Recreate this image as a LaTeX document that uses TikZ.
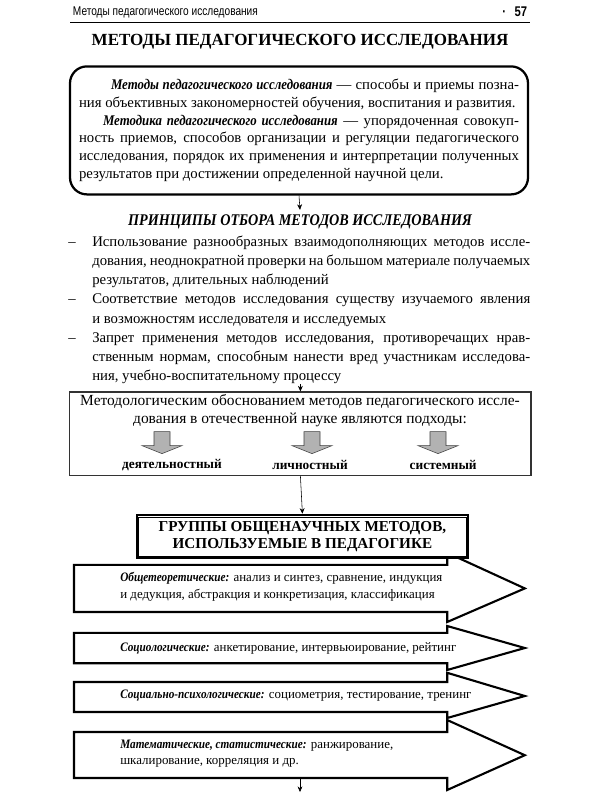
\documentclass[tikz,border=0pt]{standalone}
\usepackage{fontspec}
\setmainfont{Liberation Serif}[BoldItalicFeatures={FakeStretch=0.87}]
\newfontfamily\headfont[FakeStretch=0.8]{Liberation Sans}
\usepackage{tikz}
\usetikzlibrary{arrows.meta, positioning, calc}
\newcommand{\jline}[1]{\makebox[10.95cm][s]{#1}}

\begin{document}
\begin{tikzpicture}[
      every node/.style={font=\small},
      defbox/.style={draw, line width=1.6pt, rounded corners=12pt, minimum width=11.45cm,
                     minimum height=3.2cm, text width=11cm, inner xsep=0.2cm, align=justify,
                     font=\fontsize{10.5}{12.6}\selectfont},
      basebox/.style={draw=black!80, thick, minimum width=11.53cm, minimum height=2.08cm},
      hdrbox/.style={draw, line width=1.8pt, fill=white, minimum width=8.28cm, minimum height=1.07cm,
                     align=center, font=\fontsize{10.8}{11.8}\selectfont\bfseries},
      band/.style={draw, line width=1.5pt, fill=white, line join=miter},
      bandtext/.style={anchor=west, align=left, inner sep=0pt, font=\fontsize{9.2}{12}\selectfont},
      graydown/.style={draw=black!75, fill=black!30, line join=miter},
      apr/.style={font=\fontsize{9.5}{11}\selectfont\bfseries},
      arr/.style={-{Stealth[length=4pt,width=3.5pt]}, thin},
    ]
    \useasboundingbox[fill=white] (0,0) rectangle (15,-20);

    % running head
    \node[anchor=west, font=\headfont\fontsize{9}{10}\selectfont] (runhead) at (1.7,-0.3) {Методы педагогического исследования};
    \node[anchor=east, font=\headfont\fontsize{10}{10}\selectfont\bfseries] (pageno) at (13.3,-0.3) {·\hspace{0.6em}57};
    \draw[line width=0.8pt] (1.75,-0.57) -- (13.25,-0.57);

    \node[font=\fontsize{12.1}{14}\selectfont\bfseries] (title) at (7.5,-1.05) {МЕТОДЫ ПЕДАГОГИЧЕСКОГО ИССЛЕДОВАНИЯ};

    \node[defbox] (defn) at (7.475,-3.26) {\hspace*{0.8cm}\textbf{\textit{Методы педагогического исследования}} — способы и приемы позна-\linebreak
      ния объективных закономерностей обучения, воспитания и развития.\par
      \hspace*{0.6cm}\textbf{\textit{Методика педагогического исследования}} — упорядоченная совокуп-\linebreak
      ность приемов, способов организации и регуляции педагогического\linebreak
      исследования, порядок их применения и интерпретации полученных\linebreak
      результатов при достижении определенной научной цели.};

    \node[font=\fontsize{11.6}{12}\selectfont\bfseries\itshape] (princ) at (7.5,-5.55) {ПРИНЦИПЫ ОТБОРА МЕТОДОВ ИССЛЕДОВАНИЯ};

    \node[anchor=north west, align=left, inner sep=0pt, font=\fontsize{10.5}{13.7}\selectfont] (rules) at (1.7,-5.88) {%
      \makebox[0.6cm][l]{–}\jline{Использование разнообразных взаимодополняющих методов иссле-}\\
      \hspace*{0.6cm}\jline{дования, неоднократной проверки на большом материале получаемых}\\
      \hspace*{0.6cm}результатов, длительных наблюдений\\
      \makebox[0.6cm][l]{–}\jline{Соответствие методов исследования существу изучаемого явления}\\
      \hspace*{0.6cm}и возможностям исследователя и исследуемых\\
      \makebox[0.6cm][l]{–}\jline{Запрет применения методов исследования, противоречащих нрав-}\\
      \hspace*{0.6cm}\jline{ственным нормам, способным нанести вред участникам исследова-}\\
      \hspace*{0.6cm}ния, учебно-воспитательному процессу};

    \node[basebox] (base) at (7.51,-10.84) {};
    \node[align=center, font=\fontsize{11}{12.6}\selectfont] (basetext) at (7.5,-10.27)
      {Методологическим обоснованием методов педагогического иссле-\\дования в отечественной науке являются подходы:};
    \coordinate (ga1) at (4.05,-10.79);
    \coordinate (ga2) at (7.8,-10.79);
    \coordinate (ga3) at (10.95,-10.79);
    \draw[graydown] (ga1) ++(-0.2,0) -- ++(0.4,0) -- ++(0,-0.35) -- ++(0.3,0) -- ++(-0.5,-0.2) -- ++(-0.5,0.2) -- ++(0.3,0) -- cycle;
    \draw[graydown] (ga2) ++(-0.2,0) -- ++(0.4,0) -- ++(0,-0.35) -- ++(0.3,0) -- ++(-0.5,-0.2) -- ++(-0.5,0.2) -- ++(0.3,0) -- cycle;
    \draw[graydown] (ga3) ++(-0.2,0) -- ++(0.4,0) -- ++(0,-0.35) -- ++(0.3,0) -- ++(-0.5,-0.2) -- ++(-0.5,0.2) -- ++(0.3,0) -- cycle;
    \node[apr] (ap1) at (4.3,-11.62) {деятельностный};
    \node[apr] (ap2) at (7.75,-11.62) {личностный};
    \node[apr] (ap3) at (11.08,-11.62) {системный};

    % method groups
    \draw[band] (1.85,-14.12) -- (11.18,-14.12) -- (11.18,-13.82) -- (13.12,-14.71) -- (11.18,-15.55) -- (11.18,-15.3) -- (1.85,-15.3) -- cycle;
    \draw[band] (1.85,-15.82) -- (11.18,-15.82) -- (11.18,-15.65) -- (13.12,-16.2) -- (11.18,-16.75) -- (11.18,-16.58) -- (1.85,-16.58) -- cycle;
    \draw[band] (1.85,-17.05) -- (11.18,-17.05) -- (11.18,-16.82) -- (13.12,-17.4) -- (11.18,-17.95) -- (11.18,-17.8) -- (1.85,-17.8) -- cycle;
    \draw[band] (1.85,-18.3) -- (11.18,-18.3) -- (11.18,-18.0) -- (13.12,-18.88) -- (11.18,-19.75) -- (11.18,-19.45) -- (1.85,-19.45) -- cycle;

    \node[hdrbox] (groups) at (7.56,-13.41) {ГРУППЫ ОБЩЕНАУЧНЫХ МЕТОДОВ,\\ИСПОЛЬЗУЕМЫЕ В ПЕДАГОГИКЕ};
    \draw[thin] ($(groups.north west)+(0.08,-0.08)$) rectangle ($(groups.south east)+(-0.08,0.08)$);

    \node[bandtext] (g1) at (3.0,-14.66) {\textbf{\textit{Общетеоретические:}} анализ и синтез, сравнение, индукция\\и дедукция, абстракция и конкретизация, классификация};
    \node[bandtext] (g2) at (3.0,-16.2) {\textbf{\textit{Социологические:}} анкетирование, интервьюирование, рейтинг};
    \node[bandtext] (g3) at (3.0,-17.4) {\textbf{\textit{Социально-психологические:}} социометрия, тестирование, тренинг};
    \node[bandtext] (g4) at (3.0,-18.84) {\textbf{\textit{Математические, статистические:}} ранжирование,\\шкалирование, корреляция и др.};

    \coordinate (tail) at (7.5,-19.45);
    \coordinate (tailend) at (7.5,-19.8);

    \draw[arr] (defn.south) -- (princ.north);
    \draw[arr] (rules.south -| base.north) -- (base.north);
    \draw[arr] (base.south) -- (groups.north);
    \draw[arr] (tail) -- (tailend);
    \end{tikzpicture}
\end{document}
